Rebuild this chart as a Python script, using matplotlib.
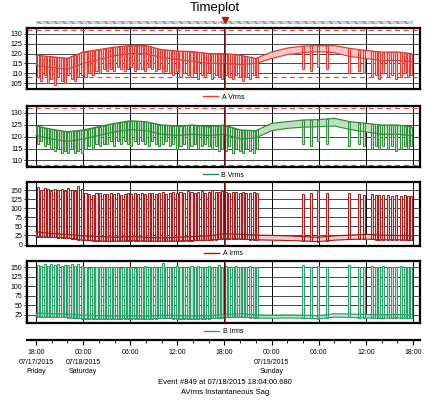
import numpy as np
import matplotlib
matplotlib.use('Agg')
import matplotlib.pyplot as plt
from matplotlib.lines import Line2D
from matplotlib.ticker import MultipleLocator, AutoMinorLocator

plt.rcParams['font.family'] = ['Liberation Sans', 'DejaVu Sans']

# time axis: hours since 07/17/2015 18:00
env_hours = [0, 2, 4, 6, 8, 10, 12, 14, 16, 18, 20, 22, 24, 26, 28, 30, 32, 34, 36, 38, 40, 42, 44, 46, 47.8]

# band (max / min) of each channel
a_vrms_upper = [119.2, 118.4, 117.6, 120.8, 122.0, 123.3, 124.1, 124.0, 122.0, 121.3, 121.0, 120.0, 120.0,
                119.2, 117.5, 120.8, 122.8, 123.8, 124.1, 124.0, 122.6, 121.6, 120.8, 120.8, 120.0]
a_vrms_lower = [114, 113, 112, 115, 117, 119, 120, 120, 118, 117, 116, 115, 115,
                114.5, 115, 117.5, 119.5, 120.5, 121, 120.5, 118.5, 117.5, 116.5, 116.5, 116]
b_vrms_upper = [124.5, 123.1, 122.1, 122.8, 124.2, 125.6, 126.7, 126.3, 124.9, 124.5, 124.9, 124.2, 124.9,
                122.8, 122.5, 125.6, 126.3, 127.0, 127.2, 127.7, 126.3, 125.6, 124.9, 124.9, 124.2]
b_vrms_lower = [120.5, 119, 118, 119, 120.5, 122, 123, 122.5, 121, 120.5, 121, 120.5, 121,
                119, 119.5, 122.5, 123.5, 124, 124.2, 124.5, 123, 122, 121, 121, 120.5]
a_irms_upper = [35, 30, 28, 24, 22, 20, 22, 20, 18, 20, 22, 24, 30, 28, 26, 25, 24, 22, 20, 24, 26, 28, 26, 25, 24]
a_irms_lower = [22, 20, 18, 12, 10, 9, 11, 10, 9, 10, 11, 12, 16, 15, 13, 12, 11, 10, 8, 12, 14, 15, 13, 13, 12]
b_irms_upper = [30, 28, 27, 24, 23, 22, 23, 22, 24, 23, 22, 23, 26, 28, 25, 24, 25, 24, 23, 28, 27, 26, 25, 26, 25]
b_irms_lower = [20, 19, 18, 15, 14, 14, 15, 14, 16, 15, 14, 15, 18, 19, 17, 16, 17, 16, 15, 19, 18, 17, 16, 17, 16]

# motor starts: sag / inrush events
spike_hours = [0.2, 0.6, 1.1, 1.5, 1.9, 2.4, 2.8, 3.3, 3.7, 4.1, 4.6, 5.0, 5.4, 5.9,
               6.3, 6.8, 7.2, 7.7, 8.1, 8.6,
               9.0, 9.5, 9.9, 10.4, 10.8, 11.3, 11.7, 12.1, 12.6, 13.0, 13.5, 13.9, 14.4, 14.8, 15.3, 15.7, 16.2, 16.6,
               17.1, 17.5, 18.0, 18.4, 18.9, 19.3, 19.8, 20.2, 20.6, 21.1, 21.5, 22.0, 22.4, 22.9, 23.3, 23.7,
               24.2, 24.6, 25.1, 25.5, 26.0, 26.4, 26.8, 27.3, 27.7, 28.2,
               34.0, 35.0, 35.9, 37.1, 39.9, 41.1, 41.8, 42.8, 43.3, 43.7, 44.2, 44.8, 45.3, 45.9, 46.5, 47.0, 47.4, 47.8]
a_vrms_spikes = [108, 106, 109, 105, 107, 104, 108, 106, 105, 109, 107, 106, 108, 109,
                 108, 110, 109, 111, 110, 112,
                 111, 112, 111, 113, 112, 111, 112, 113, 111, 112, 112, 111, 113, 112, 111, 112, 110, 111,
                 110, 109, 111, 108, 110, 109, 108, 110, 107, 109, 108, 110, 107, 109, 108, 107,
                 109, 108, 107, 109, 108, 106, 108, 107, 109, 108,
                 112, 111, 113, 112, 110, 111, 110, 108, 109, 107, 110, 108, 109, 107, 108, 110, 108, 109]
b_vrms_spikes = [117, 118, 116, 117, 115, 114, 115, 113, 114, 113, 115, 113, 114, 113,
                 115, 116, 115, 117, 116, 117,
                 117, 118, 116, 118, 117, 118, 117, 116, 118, 117, 118, 117, 116, 118, 117, 116, 117, 118,
                 116, 117, 115, 116, 117, 115, 116, 117, 115, 116, 117, 116, 115, 116, 114, 115,
                 114, 116, 113, 115, 114, 113, 115, 114, 113, 115,
                 117, 116, 118, 117, 116, 117, 116, 115, 116, 115, 116, 115, 116, 114, 115, 116, 115, 116]
a_irms_spikes = [160, 150, 155, 152, 148, 154, 150, 153, 149, 155, 151, 147, 162, 152,
                 142, 140, 138, 141, 143, 139,
                 140, 142, 139, 141, 138, 140, 143, 139, 141, 140, 142, 139, 141, 143, 140, 142, 145, 139,
                 142, 144, 141, 146, 143, 148, 145, 142, 144, 147, 143, 145, 150, 146, 144, 148,
                 145, 143, 146, 144, 142, 145, 143, 141, 144, 142,
                 140, 141, 150, 141, 142, 140, 138, 139, 137, 138, 136, 137, 135, 136, 135, 136, 134, 135]
b_irms_spikes = [157, 155, 158, 154, 159, 156, 158, 155, 157, 156, 159, 154, 158, 155,
                 150, 149, 151, 150, 152, 150,
                 151, 150, 152, 150, 149, 151, 150, 152, 149, 151, 150, 153, 151, 150, 152, 151, 162, 150,
                 152, 151, 153, 150, 152, 151, 153, 150, 154, 152, 151, 153, 150, 152, 156, 151,
                 153, 152, 150, 153, 151, 152, 150, 153, 151, 152,
                 157, 152, 155, 151, 156, 152, 151, 153, 152, 151, 153, 152, 151, 152, 153, 151, 152, 151]

event_hour = 24.07
tick_hours = [0, 6, 12, 18, 24, 30, 36, 42, 48]
tick_labels = ['18:00\n07/17/2015\nFriday', '00:00\n07/18/2015\nSaturday', '06:00', '12:00', '18:00',
               '00:00\n07/19/2015\nSunday', '06:00', '12:00', '18:00']

XLIM = (-1.15, 48.9)
LEFT, WIDTH = 27 / 430, 393 / 430


def draw_panel(ax, upper, lower, spikes, color, fill, down, ylim, yticks, name, limits=None):
    ax.set_xlim(XLIM)
    ax.set_ylim(ylim)
    for h in tick_hours:
        ax.axvline(h, color='black', lw=0.7, zorder=0)
    for v in yticks:
        ax.axhline(v, color='black', lw=0.5, zorder=0)
    if limits:
        for v in limits:
            ax.axhline(v, color='#e0504a', lw=0.9, ls=(0, (4, 3)), zorder=1)
    ax.fill_between(env_hours, lower, upper, color=fill, lw=0, zorder=2)
    if down:
        # bars hang from the top of the band down to the sag minimum
        tops = np.interp(spike_hours, env_hours, upper)
        ax.bar(spike_hours, tops - np.array(spikes), bottom=spikes, width=0.26,
               color=fill, edgecolor=color, lw=0.7, zorder=3)
    else:
        base = np.interp(spike_hours, env_hours, lower)
        ax.bar(spike_hours, np.array(spikes) - base, bottom=base, width=0.26,
               color=fill, edgecolor=color, lw=0.7, zorder=3)
    ax.plot(env_hours, upper, color=color, lw=0.9, zorder=4)
    ax.plot(env_hours, lower, color=color, lw=0.8, zorder=4)
    ax.axvline(event_hour, color='#8b1010', lw=1.1, zorder=5)

    ax.set_yticks(yticks)
    ax.yaxis.set_minor_locator(AutoMinorLocator(5))
    ax.tick_params(axis='y', labelsize=5, length=2.5, width=0.6, pad=1)
    ax.tick_params(axis='y', which='minor', length=1.5, width=0.5)
    ax.set_xticks([])
    for s in ax.spines.values():
        s.set_linewidth(1.6)
    h = Line2D([], [], color=color, lw=1.0)
    ax.legend([h], [name], loc='upper center', bbox_to_anchor=(0.5, 0.0), frameon=False,
              fontsize=5, handlelength=2.2, handletextpad=0.5, borderpad=0.2)


fig = plt.figure(figsize=(4.3, 4.0), dpi=100)
fig.text(0.5, 0.98, 'Timeplot', ha='center', va='center', fontsize=9.5)

# event strip on top
strip = fig.add_axes([LEFT, 1 - 24 / 400, WIDTH, 3.5 / 400])
strip.set_xlim(XLIM)
strip.set_ylim(0, 1)
strip.axvspan(0, 48, color='#d0d0d0', lw=0)
strip.axvspan(0, 48, facecolor='none', edgecolor='#909090', hatch='\\\\\\\\', lw=0)
strip.plot([event_hour], [1.1], marker='v', color='#c01010', ms=4, clip_on=False)
strip.axis('off')

a1 = fig.add_axes([LEFT, 0.7775, WIDTH, 0.1525])
draw_panel(a1, a_vrms_upper, a_vrms_lower, a_vrms_spikes, '#e8382f', '#f8c6c4', True,
           (102, 133), [105, 110, 115, 120, 125, 130], 'A Vrms', limits=(108, 132))
a2 = fig.add_axes([LEFT, 0.583, WIDTH, 0.1525])
draw_panel(a2, b_vrms_upper, b_vrms_lower, b_vrms_spikes, '#2f8c3a', '#bfe0bf', True,
           (107.3, 133), [110, 115, 120, 125, 130], 'B Vrms', limits=(108, 132))
a3 = fig.add_axes([LEFT, 0.386, WIDTH, 0.1585])
draw_panel(a3, a_irms_upper, a_irms_lower, a_irms_spikes, '#a31b1b', '#f2cccc', False,
           (-3, 172), [0, 25, 50, 75, 100, 125, 150], 'A Irms')
a4 = fig.add_axes([LEFT, 0.192, WIDTH, 0.1565])
draw_panel(a4, b_irms_upper, b_irms_lower, b_irms_spikes, '#28a06a', '#bfe6d2', False,
           (3, 168), [25, 50, 75, 100, 125, 150], 'B Irms')

# shared time axis
ax_t = fig.add_axes([LEFT, 0.15, WIDTH, 0.001])
ax_t.set_xlim(XLIM)
for s in ['top', 'left', 'right']:
    ax_t.spines[s].set_visible(False)
ax_t.spines['bottom'].set_linewidth(1.6)
ax_t.set_yticks([])
ax_t.set_xticks(tick_hours)
ax_t.set_xticklabels(tick_labels, fontsize=5, linespacing=1.5)
ax_t.xaxis.set_minor_locator(MultipleLocator(2))
ax_t.tick_params(axis='x', length=3.5, width=0.8, pad=3)
ax_t.tick_params(axis='x', which='minor', length=2.5, width=0.6)

fig.text(0.523, 0.045, 'Event #849 at 07/18/2015 18:04:00.680', ha='center', va='center', fontsize=5.5)
fig.text(0.523, 0.02, 'AVrms Instantaneous Sag', ha='center', va='center', fontsize=5.5)

fig.savefig('out.png', dpi=100)
